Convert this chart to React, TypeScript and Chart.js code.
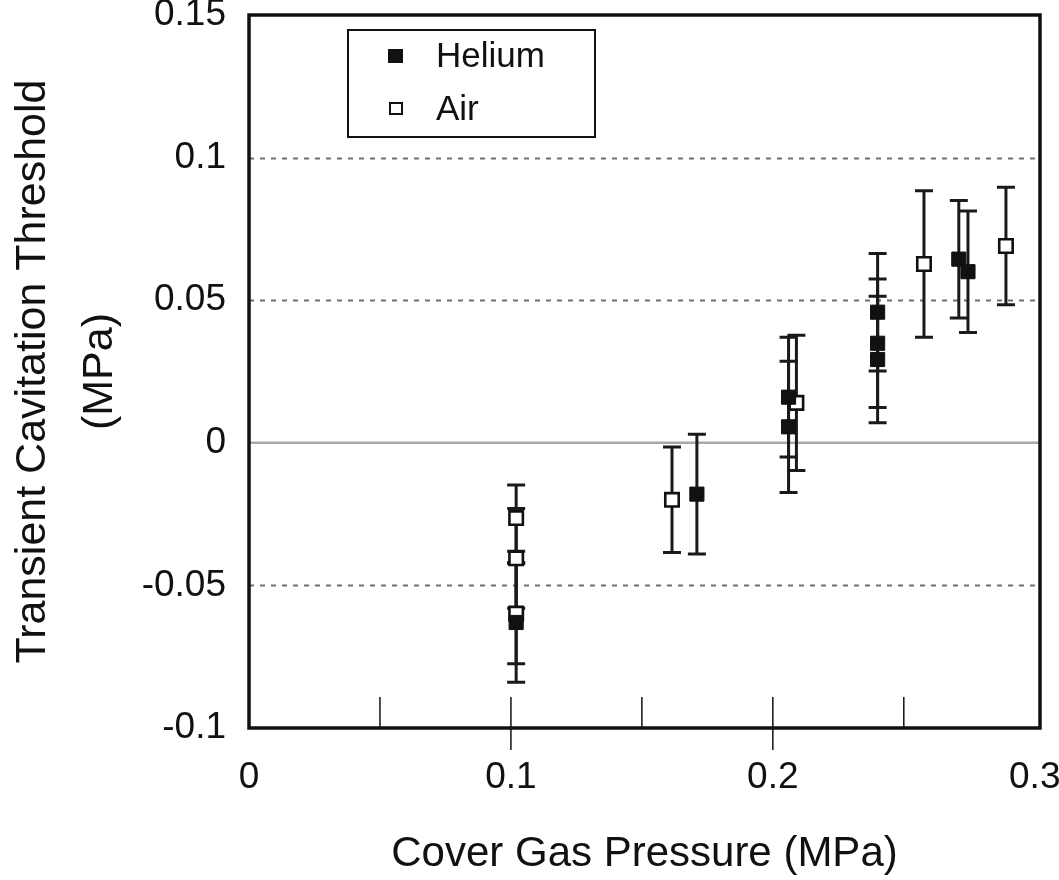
import React, { useEffect, useRef } from "react";
import { Chart, registerables } from "chart.js";

Chart.register(...registerables);

// ---- data ----
const heliumPressure = [0.102, 0.171, 0.206, 0.206, 0.24, 0.24, 0.24, 0.271, 0.2745];
const heliumThreshold = [-0.063, -0.018, 0.016, 0.0056, 0.0458, 0.0349, 0.0292, 0.0644, 0.06];
const heliumError = [0.021, 0.021, 0.021, 0.023, 0.0206, 0.0225, 0.0222, 0.0206, 0.0213];

const airPressure = [0.102, 0.102, 0.102, 0.1615, 0.209, 0.2577, 0.289];
const airThreshold = [-0.0264, -0.0405, -0.0599, -0.02, 0.014, 0.0627, 0.069];
const airError = [0.0116, 0.0175, 0.0176, 0.0185, 0.0237, 0.0257, 0.0206];

const xTickValues = [0, 0.1, 0.2, 0.3];
const yTickValues = [-0.1, -0.05, 0, 0.05, 0.1, 0.15];
const xInnerTicks = [0.05, 0.1, 0.15, 0.2, 0.25];
const xLongTicks = [0.1, 0.2];
const dottedGridValues = [-0.05, 0.05, 0.1];
const solidGridValues = [0];

const seriesLabels = ["Helium", "Air"];
const xTitle = "Cover Gas Pressure (MPa)";
const yTitle = ["Transient Cavitation Threshold", "(MPa)"];

const FONT = "'Liberation Sans', Arial, Helvetica, sans-serif";
const INK = "#111";

const fmt = (v: number) => String(Number(Number(v).toFixed(3)));

const gridPlugin = {
  id: "gridAndBars",
  beforeDatasetsDraw(chart: any) {
    const { ctx, chartArea, scales } = chart;
    const ys = scales.y;
    ctx.save();
    // dotted grid lines
    ctx.strokeStyle = "#707070";
    ctx.lineWidth = 2;
    ctx.setLineDash([5, 6]);
    dottedGridValues.forEach((v) => {
      const py = Math.round(ys.getPixelForValue(v)) + 0.5;
      ctx.beginPath();
      ctx.moveTo(chartArea.left, py);
      ctx.lineTo(chartArea.right, py);
      ctx.stroke();
    });
    // solid zero line
    ctx.setLineDash([]);
    ctx.strokeStyle = "#a8a8a8";
    ctx.lineWidth = 2.5;
    solidGridValues.forEach((v) => {
      const py = ys.getPixelForValue(v);
      ctx.beginPath();
      ctx.moveTo(chartArea.left, py);
      ctx.lineTo(chartArea.right, py);
      ctx.stroke();
    });
    // error bars
    ctx.strokeStyle = "#1a1a1a";
    chart.data.datasets.forEach((ds: any, di: number) => {
      const meta = chart.getDatasetMeta(di);
      meta.data.forEach((el: any, i: number) => {
        const val = ds.data[i].y;
        const err = ds.errors[i];
        const yTop = ys.getPixelForValue(val + err);
        const yBot = ys.getPixelForValue(val - err);
        const x = el.x;
        ctx.lineWidth = 3;
        ctx.beginPath();
        ctx.moveTo(x, yTop);
        ctx.lineTo(x, yBot);
        ctx.stroke();
        ctx.lineWidth = 3;
        ctx.beginPath();
        ctx.moveTo(x - 9, yTop);
        ctx.lineTo(x + 9, yTop);
        ctx.moveTo(x - 9, yBot);
        ctx.lineTo(x + 9, yBot);
        ctx.stroke();
      });
    });
    ctx.restore();
  },
  afterDraw(chart: any) {
    const { ctx, chartArea, scales } = chart;
    const xs = scales.x;
    ctx.save();
    // frame
    ctx.strokeStyle = INK;
    ctx.lineWidth = 3.5;
    ctx.strokeRect(chartArea.left, chartArea.top, chartArea.right - chartArea.left, chartArea.bottom - chartArea.top);
    // inner x ticks
    ctx.lineWidth = 1.5;
    xInnerTicks.forEach((v) => {
      const px = xs.getPixelForValue(v);
      ctx.beginPath();
      ctx.moveTo(px, chartArea.bottom);
      ctx.lineTo(px, chartArea.bottom - 31);
      ctx.stroke();
    });
    xLongTicks.forEach((v) => {
      const px = xs.getPixelForValue(v);
      ctx.beginPath();
      ctx.moveTo(px, chartArea.bottom);
      ctx.lineTo(px, chartArea.bottom + 22);
      ctx.stroke();
    });
    // legend
    const lx = 348, ly = 30, lw = 247, lh = 107;
    ctx.lineWidth = 2;
    ctx.strokeStyle = INK;
    ctx.strokeRect(lx, ly, lw, lh);
    const rows = [ly + 26, ly + 79];
    // helium marker
    ctx.fillStyle = INK;
    ctx.fillRect(lx + 40, rows[0] - 7, 15, 14);
    // air marker
    ctx.fillStyle = "#fff";
    ctx.fillRect(lx + 42, rows[1] - 6, 12, 11);
    ctx.lineWidth = 2;
    ctx.strokeRect(lx + 42, rows[1] - 6, 12, 11);
    ctx.fillStyle = INK;
    ctx.font = `35px ${FONT}`;
    ctx.textBaseline = "middle";
    ctx.textAlign = "left";
    ctx.fillText(seriesLabels[0], lx + 88, rows[0] + 1);
    ctx.fillText(seriesLabels[1], lx + 88, rows[1] + 1);
    ctx.restore();
  },
};

export default function App() {
  const ref = useRef<HTMLCanvasElement | null>(null);
  useEffect(() => {
    if (!ref.current) return;
    const chart = new Chart(ref.current, {
      type: "scatter",
      data: {
        datasets: [
          {
            label: seriesLabels[0],
            data: heliumPressure.map((x, i) => ({ x, y: heliumThreshold[i] })),
            errors: heliumError,
            pointStyle: "rect",
            pointRadius: 10,
            pointBackgroundColor: INK,
            pointBorderColor: INK,
            pointBorderWidth: 1,
            showLine: false,
          } as any,
          {
            label: seriesLabels[1],
            data: airPressure.map((x, i) => ({ x, y: airThreshold[i] })),
            errors: airError,
            pointStyle: "rect",
            pointRadius: 9.5,
            pointBackgroundColor: "#fff",
            pointBorderColor: INK,
            pointBorderWidth: 2.6,
            showLine: false,
          } as any,
        ],
      },
      options: {
        animation: false,
        responsive: false,
        maintainAspectRatio: false,
        layout: { padding: { left: 0, right: 19, top: 15, bottom: 0 } },
        plugins: { legend: { display: false }, tooltip: { enabled: false } },
        scales: {
          x: {
            type: "linear",
            min: 0,
            max: 0.302,
            grid: { display: false, drawTicks: false },
            border: { display: false },
            afterBuildTicks: (s: any) => {
              s.ticks = xTickValues.map((v) => ({ value: v }));
            },
            afterFit: (s: any) => {
              s.height = 152;
              s.paddingLeft = 0;
              s.paddingRight = 0;
            },
            ticks: {
              color: INK,
              font: { family: FONT, size: 37 },
              padding: 28,
              maxRotation: 0,
              autoSkip: false,
              callback: (v: any) => fmt(v),
            },
            title: {
              display: true,
              text: xTitle,
              color: INK,
              font: { family: FONT, size: 42 },
              padding: { top: 0, bottom: 0 },
            },
          },
          y: {
            type: "linear",
            min: -0.1,
            max: 0.15,
            grid: { display: false, drawTicks: false },
            border: { display: false },
            afterBuildTicks: (s: any) => {
              s.ticks = yTickValues.map((v) => ({ value: v }));
            },
            afterFit: (s: any) => {
              s.width = 249;
              s.paddingTop = 0;
              s.paddingBottom = 0;
            },
            ticks: {
              color: INK,
              font: { family: FONT, size: 37 },
              padding: 23,
              autoSkip: false,
              callback: (v: any) => fmt(v),
            },
            title: {
              display: true,
              text: yTitle,
              color: INK,
              font: { family: FONT, size: 43, lineHeight: 1.55 },
              padding: { top: 0, bottom: 0 },
            },
          },
        },
      },
      plugins: [gridPlugin],
    } as any);
    return () => chart.destroy();
  }, []);
  return (
    <div style={{ position: "absolute", left: 0, top: 0, width: 1059, height: 880, background: "#fff" }}>
      <canvas ref={ref} width={1059} height={880} style={{ width: 1059, height: 880, display: "block" }} />
    </div>
  );
}
